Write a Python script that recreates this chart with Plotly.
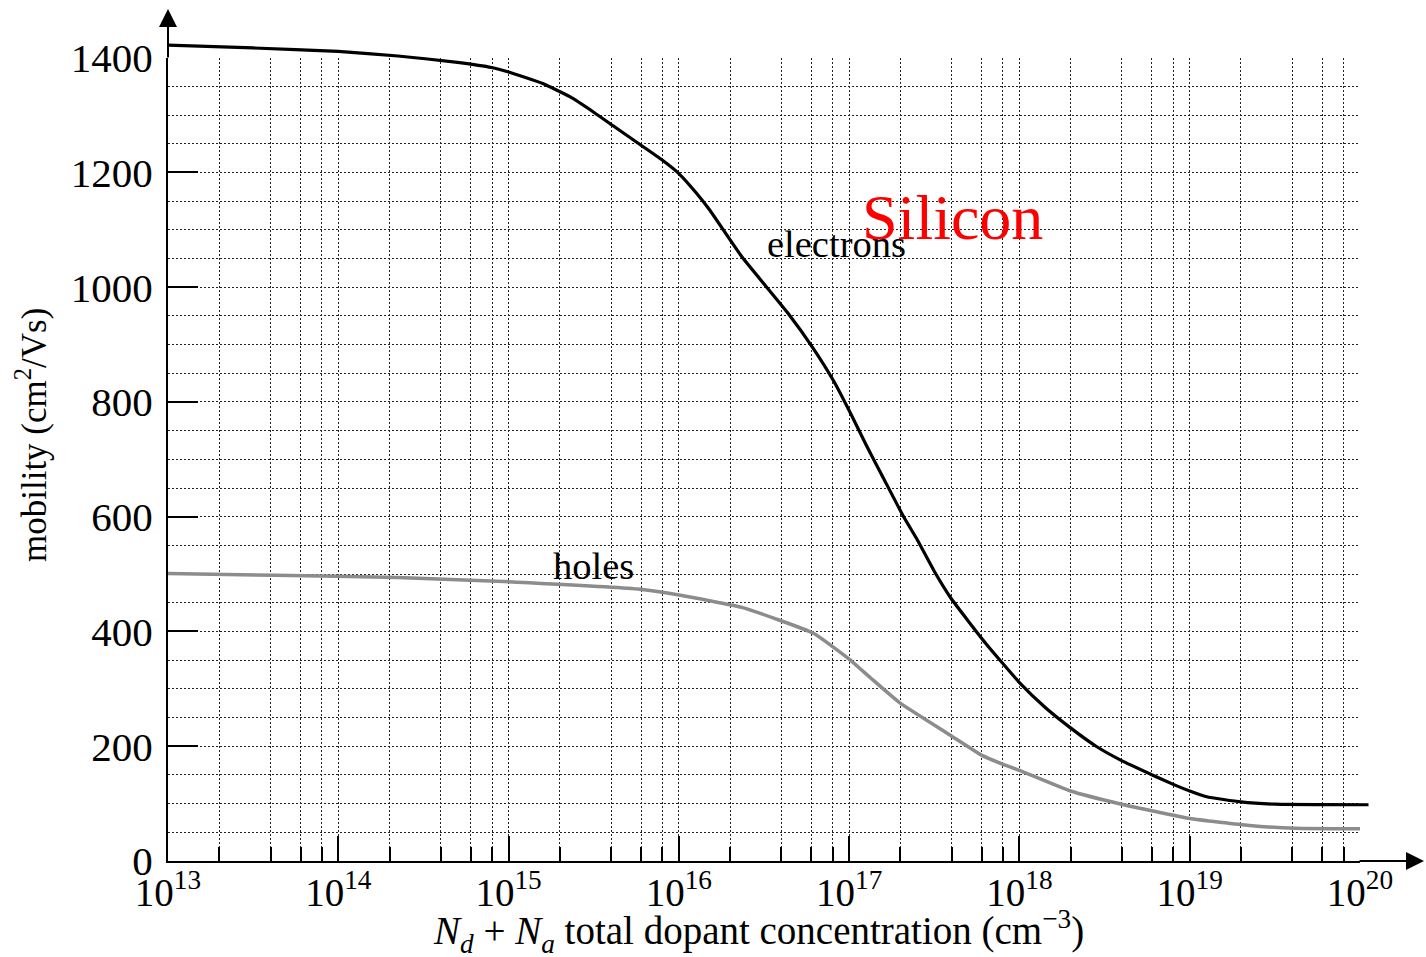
import plotly.graph_objects as go

# ---------------- data ----------------
# log10 of total dopant concentration (cm^-3) and mobility (cm^2/Vs)
electron_log_conc = [13.0, 13.5, 14.0, 14.35, 14.7, 14.9, 15.0, 15.2, 15.36, 15.5, 15.62,
                     15.78, 15.9, 16.0, 16.1, 16.18, 16.37, 16.64, 16.79, 16.91, 17.0,
                     17.1, 17.2, 17.32, 17.4, 17.5, 17.6, 17.7, 17.8, 17.9, 18.0,
                     18.15, 18.3, 18.45, 18.6, 18.78, 18.9, 19.0, 19.1, 19.3, 19.5, 20.05]
electron_mobility = [1422, 1417, 1411, 1403, 1392, 1383, 1375, 1355, 1332, 1305, 1280,
                     1247, 1222, 1198, 1165, 1135, 1053, 955, 893, 836, 785,
                     725, 668, 600, 560, 505, 457, 418, 380, 345, 311,
                     268, 232, 200, 175, 150, 134, 122, 112, 103, 99, 98]

hole_log_conc = [13.0, 13.63, 14.35, 15.05, 15.76, 16.01, 16.37, 16.79, 17.0, 17.13,
                 17.3, 17.6, 17.78, 17.9, 18.0, 18.3, 18.6, 19.0, 19.35, 19.62, 20.0]
hole_mobility = [501, 498, 494, 486, 474, 463, 442, 397, 352, 318,
                 275, 218, 184, 169, 158, 122, 99, 74, 62, 57, 56]

decade_exps = [13, 14, 15, 16, 17, 18, 19, 20]
decade_labels = ["10<sup>%d</sup>" % e for e in decade_exps]
minor_mults = [2, 4, 6, 8]
y_major = [0, 200, 400, 600, 800, 1000, 1200, 1400]
y_minor = list(range(50, 1400, 50))

# ---------------- figure ----------------
W, H = 1426, 957
ML, MR, MT, MB = 168, 48, 20, 96
PW, PH = W - ML - MR, H - MT - MB          # plot area in px
X0PX, X20PX = 168, 1360                    # pixel of 1e13 and 1e20
Y0PX, Y1400PX = 861, 57.7                  # pixel of 0 and 1400
dec_px = (X20PX - X0PX) / 7.0
y_px = (Y0PX - Y1400PX) / 1400.0

SERIF = "Liberation Serif, Times New Roman, serif"
GRIDC = "#222222"
GRIDD = "2px,2px"

fig = go.Figure()
# empty trace so that the grid subplot (x, y) is drawn
fig.add_trace(go.Scatter(x=[], y=[], xaxis="x", yaxis="y", showlegend=False,
                         hoverinfo="skip"))
fig.add_trace(go.Scatter(
    x=[10.0 ** v for v in electron_log_conc], y=electron_mobility,
    mode="lines", line=dict(color="black", width=3.2, shape="spline", smoothing=0.4),
    xaxis="x2", yaxis="y2", showlegend=False, hoverinfo="skip"))
fig.add_trace(go.Scatter(
    x=[10.0 ** v for v in hole_log_conc], y=hole_mobility,
    mode="lines", line=dict(color="#8c8c8c", width=3.5, shape="spline", smoothing=0.4),
    xaxis="x2", yaxis="y2", showlegend=False, hoverinfo="skip"))

minor_x = [float(m) * 10.0 ** e for e in decade_exps[:-1] for m in minor_mults]

fig.update_layout(
    width=W, height=H, autosize=False,
    margin=dict(l=ML, r=MR, t=MT, b=MB, pad=0, autoexpand=False),
    paper_bgcolor="white", plot_bgcolor="rgba(0,0,0,0)",
    font=dict(family=SERIF, color="black"),
    showlegend=False,
    xaxis=dict(
        type="log", range=[13, 20], domain=[0, (X20PX - X0PX) / PW], anchor="y",
        automargin=False,
        tickmode="array", tickvals=[10.0 ** e for e in decade_exps], ticktext=decade_labels,
        ticks="inside", ticklen=25, tickwidth=1.5, tickcolor="black",
        tickfont=dict(family=SERIF, size=39, color="black"),
        ticklabelstandoff=-4,
        showline=True, linecolor="black", linewidth=2,
        showgrid=True, gridcolor=GRIDC, gridwidth=1, griddash=GRIDD,
        zeroline=False,
        minor=dict(tickmode="array", tickvals=minor_x, ticks="inside", ticklen=14,
                   tickwidth=1.5, tickcolor="black",
                   showgrid=True, gridcolor=GRIDC, gridwidth=1, griddash=GRIDD),
    ),
    yaxis=dict(
        range=[0, 1400], domain=[0, (Y0PX - Y1400PX) / PH], anchor="x",
        automargin=False,
        tickmode="array", tickvals=y_major, ticktext=[str(v) for v in y_major],
        ticks="inside", ticklen=30, tickwidth=1.5, tickcolor="black",
        tickfont=dict(family=SERIF, size=41, color="black"),
        ticklabelstandoff=5,
        showline=True, linecolor="black", linewidth=2,
        showgrid=True, gridcolor=GRIDC, gridwidth=1, griddash=GRIDD,
        zeroline=False,
        minor=dict(tickmode="array", tickvals=y_minor, ticks="",
                   showgrid=True, gridcolor=GRIDC, gridwidth=1, griddash=GRIDD),
    ),
    xaxis2=dict(type="log", range=[13, 13 + PW / dec_px], domain=[0, 1], anchor="y2",
                visible=False, showgrid=False, zeroline=False, automargin=False),
    yaxis2=dict(range=[0, PH / y_px], domain=[0, 1], anchor="x2",
                visible=False, showgrid=False, zeroline=False, automargin=False),
)

def px2paper(px, py):
    return (px - ML) / PW, (H - MB - py) / PH

annots = []
# axis arrows
tx, ty = px2paper(168, 9)
annots.append(dict(xref="paper", yref="paper", x=tx, y=ty, ax=0, ay=50, text="",
                   showarrow=True, arrowhead=2, arrowsize=1.8, arrowwidth=2, arrowcolor="black",
                   standoff=0, startstandoff=0))
tx, ty = px2paper(1424, 861)
annots.append(dict(xref="paper", yref="paper", x=tx, y=ty, ax=-66, ay=0, text="",
                   showarrow=True, arrowhead=2, arrowsize=1.8, arrowwidth=2, arrowcolor="black",
                   standoff=0, startstandoff=0))

def label(text, px, py, size, color="black", angle=0):
    x, y = px2paper(px, py)
    return dict(xref="paper", yref="paper", x=x, y=y, text=text, showarrow=False,
                xanchor="center", yanchor="middle", textangle=angle,
                font=dict(family=SERIF, size=size, color=color))

annots.append(label("electrons", 836, 244, 38.5))
annots.append(label("holes", 593, 566, 38.5))
annots.append(label("Silicon", 953, 217, 64, color="#ff0000"))
annots.append(label("mobility (cm<sup>2</sup>/Vs)", 31, 435, 35, angle=-90))
annots.append(label("<i>N</i><sub><i>d</i></sub> + <i>N</i><sub><i>a</i></sub> total dopant concentration (cm<sup>\u22123</sup>)",
                    758, 931, 39))
fig.update_layout(annotations=annots)

fig.write_html("out.html", config={"displayModeBar": False},
               post_script="document.body.style.margin='0px';")
